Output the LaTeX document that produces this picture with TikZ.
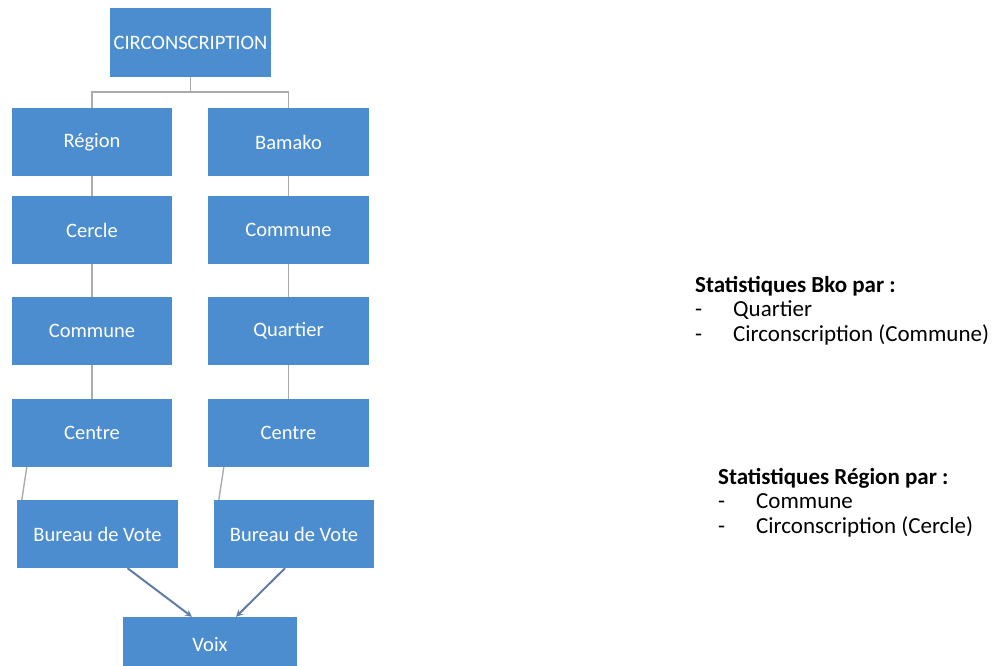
\documentclass[tikz,border=0pt]{standalone}
\usepackage{fontspec}
\setmainfont{Carlito}
\usepackage{tikz}
\usetikzlibrary{arrows,shapes,positioning}
\usepackage{xcolor}
\definecolor{boxblue}{RGB}{76,141,207}
\definecolor{linegray}{RGB}{170,170,170}
\definecolor{arrowblue}{RGB}{95,125,165}
\tikzstyle{level} = [rectangle, minimum width=161pt, minimum height=68pt, text centered, fill=boxblue, text=white, inner sep=0pt, font=\fontsize{20.5}{24}\selectfont]
\tikzstyle{conn} = [line width=1.4pt, color=linegray]
\tikzstyle{arrow} = [line width=2pt,->,>=stealth,color=arrowblue]
\tikzstyle{stats} = [anchor=north west, inner sep=0pt, font=\fontsize{23}{24.5}\selectfont]

\begin{document}
\begin{tikzpicture}[x=1pt, y=1pt]
\useasboundingbox (0,0) rectangle (1003,665);
\clip (0,0) rectangle (1003,665);
% top of the tree
\node (circ) [level, minimum height=69pt] at (190.5,622.5) {CIRCONSCRIPTION};
\node (region) [level, minimum width=160pt] at (92,523) {Région};
\node (bamako) [level] at (288.5,523) {Bamako};

% left branch
\node (cercle) [level, minimum width=160pt, below of=region, node distance=88pt] {Cercle};
\node (communeR) [level, minimum width=160pt, below of=cercle, node distance=101pt] {Commune};
\node (centreR) [level, minimum width=160pt, below of=communeR, node distance=102pt] {Centre};
\node (bureauR) [level, below of=centreR, node distance=101pt, xshift=5.5pt] {Bureau de Vote};

% right branch
\node (communeB) [level, below of=bamako, node distance=88pt] {Commune};
\node (quartier) [level, below of=communeB, node distance=101pt] {Quartier};
\node (centreB) [level, below of=quartier, node distance=102pt] {Centre};
\node (bureauB) [level, minimum width=160pt, below of=centreB, node distance=101pt, xshift=5.5pt] {Bureau de Vote};

\node (voix) [level, minimum width=174pt, minimum height=56pt] at (210,20) {Voix};

% connectors
\draw[conn] (circ.south) -- ++(0,-15) coordinate (split);
\draw[conn] (split) -| (region.north);
\draw[conn] (split) -| (bamako.north);
\draw[conn] (region) -- (cercle);
\draw[conn] (cercle) -- (communeR);
\draw[conn] (communeR) -- (centreR);
\draw[conn] (bamako) -- (communeB);
\draw[conn] (communeB) -- (quartier);
\draw[conn] (quartier) -- (centreB);
\draw[conn] ([xshift=15pt]centreR.south west) -- ([xshift=5pt]bureauR.north west);
\draw[conn] ([xshift=16pt]centreB.south west) -- ([xshift=5pt]bureauB.north west);
\draw[arrow] ([xshift=30pt]bureauR.south) -- ([xshift=-18pt]voix.north);
\draw[arrow] ([xshift=-9pt]bureauB.south) -- ([xshift=26pt]voix.north);

% statistics
\node (statsBko) [stats] at (695,390) {\begin{tabular}{@{}p{38pt}@{}l}
\multicolumn{2}{@{}l}{\textbf{Statistiques Bko par :}}\\
- & Quartier\\
- & Circonscription (Commune)
\end{tabular}};
\node (statsRegion) [stats] at (718,198) {\begin{tabular}{@{}p{38pt}@{}l}
\multicolumn{2}{@{}l}{\textbf{Statistiques Région par :}}\\
- & Commune\\
- & Circonscription (Cercle)
\end{tabular}};
\end{tikzpicture}
\end{document}
